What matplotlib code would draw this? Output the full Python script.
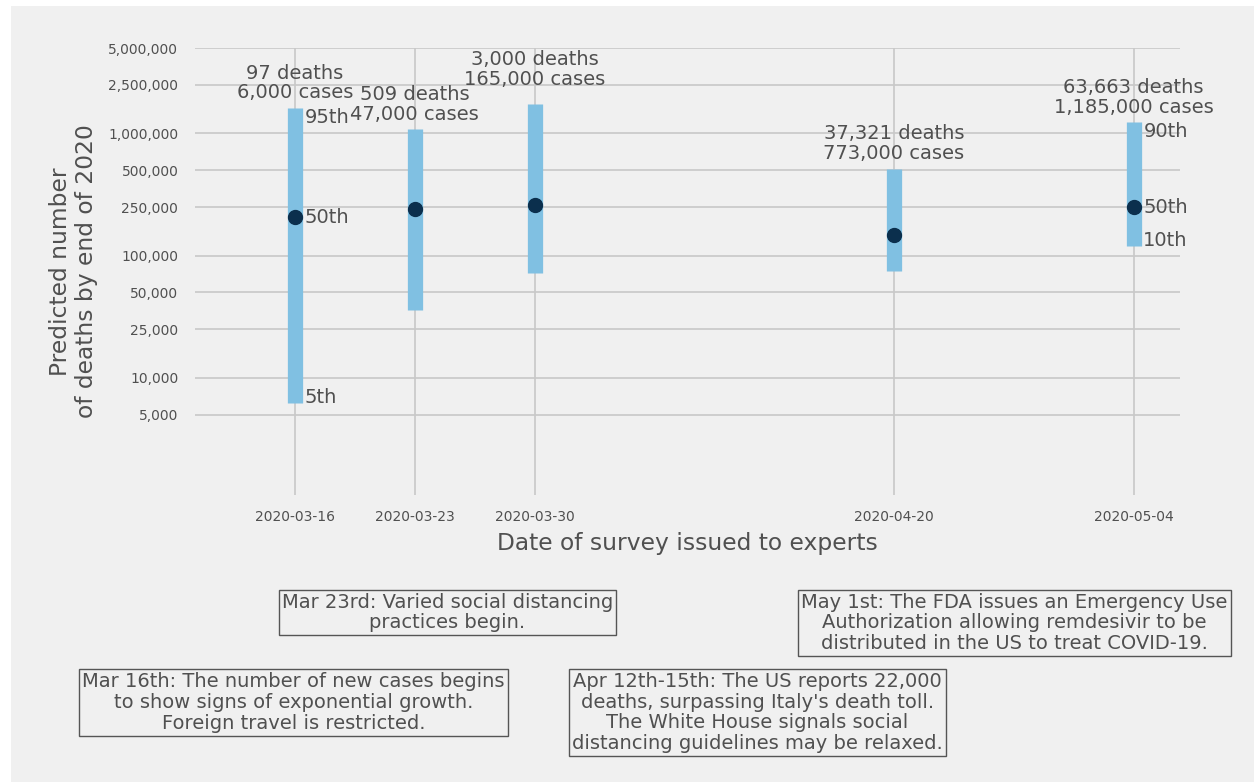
import numpy as np
import matplotlib
matplotlib.use("Agg")
import matplotlib.pyplot as plt
import matplotlib.dates as mdates
from matplotlib.ticker import FixedLocator, FuncFormatter, NullLocator
from matplotlib.patches import Rectangle

# Survey dates and expert forecasts (percentile ranges) for US deaths by end of 2020
survey_dates = ["2020-03-16", "2020-03-23", "2020-03-30", "2020-04-20", "2020-05-04"]
lower_pct = [6200, 35900, 71800, 75000, 120700]
median_pct = [206000, 242500, 258000, 148600, 250000]
upper_pct = [1620000, 1080000, 1730000, 516000, 1237000]

# Reported counts at the time each survey was issued
deaths_reported = ["97", "509", "3,000", "37,321", "63,663"]
cases_reported = ["6,000", "47,000", "165,000", "773,000", "1,185,000"]

# Percentile names shown on the first and last ranges
first_pct_labels = ["95th", "50th", "5th"]
last_pct_labels = ["90th", "50th", "10th"]

ytick_values = [5000, 10000, 25000, 50000, 100000, 250000, 500000,
                1000000, 2500000, 5000000]

events = [
    "Mar 23rd: Varied social distancing\npractices begin.",
    "May 1st: The FDA issues an Emergency Use\nAuthorization allowing remdesivir to be\ndistributed in the US to treat COVID-19.",
    "Mar 16th: The number of new cases begins\nto show signs of exponential growth.\nForeign travel is restricted.",
    "Apr 12th-15th: The US reports 22,000\ndeaths, surpassing Italy's death toll.\nThe White House signals social\ndistancing guidelines may be relaxed.",
]
# box centres in figure pixels (x from left, y from top)
event_pos = [(447.5, 612.5), (1014.5, 623), (293.5, 702.5), (757.5, 712.5)]

plt.style.use("fivethirtyeight")
TEXT = "#505050"
BG = "#f0f0f0"
W, H = 1254, 782

fig = plt.figure(figsize=(W / 100, H / 100), dpi=100, facecolor="white")
fig.add_artist(Rectangle((11 / W, 0), 1, 1 - 6 / H, transform=fig.transFigure,
                         facecolor=BG, edgecolor="none", zorder=-10))

ax = fig.add_axes([195 / W, 1 - 495 / H, (1180 - 195) / W, (495 - 48) / H])
ax.set_facecolor(BG)

x = np.array(survey_dates, dtype="datetime64[D]").astype("datetime64[s]").astype(object)
xnum = mdates.date2num(x)

ax.vlines(xnum, lower_pct, upper_pct, colors="#80c0e2", linewidth=11,
          capstyle="butt", zorder=3)
ax.plot(xnum, median_pct, "o", color="#0b2f4d", markersize=10, zorder=4)

ax.set_yscale("log")
ax.set_ylim(1100, 5000000)
ax.set_xlim(mdates.date2num(np.datetime64("2020-03-10T04:00").astype(object)),
            mdates.date2num(np.datetime64("2020-05-06T17:00").astype(object)))

ax.yaxis.set_major_locator(FixedLocator(ytick_values))
ax.yaxis.set_minor_locator(NullLocator())
ax.yaxis.set_major_formatter(FuncFormatter(lambda v, p: f"{v:,.0f}"))
ax.set_xticks(xnum)
ax.xaxis.set_major_formatter(mdates.DateFormatter("%Y-%m-%d"))
ax.tick_params(axis="both", labelsize=10, colors=TEXT, length=0)
ax.tick_params(axis="y", pad=12)
ax.tick_params(axis="x", pad=11)
ax.grid(True, color="#c8c8c8", linewidth=1.2)
for s in ax.spines.values():
    s.set_visible(False)

ax.set_xlabel("Date of survey issued to experts", fontsize=16.8, color=TEXT)
ax.xaxis.set_label_coords(0.5, -0.083)
ax.set_ylabel("Predicted number\nof deaths by end of 2020", fontsize=16.8, color=TEXT)
ax.yaxis.set_label_coords(-0.098, 0.5)

# reported counts above each range
label_offsets = [4, 4, 11, 4, 4]
for xi, top, d, c, off in zip(xnum, upper_pct, deaths_reported, cases_reported, label_offsets):
    ax.annotate(f"{d} deaths\n{c} cases", (xi, top), xytext=(0, off),
                textcoords="offset points", ha="center", va="bottom",
                fontsize=14, color=TEXT, linespacing=1.05)

# percentile names on first and last ranges
for idx, names in ((0, first_pct_labels), (-1, last_pct_labels)):
    vals = [upper_pct[idx], median_pct[idx], lower_pct[idx]]
    vas = ["top", "center", "baseline"]
    for name, v, va in zip(names, vals, vas):
        ax.annotate(name, (xnum[idx], v), xytext=(7, 0), textcoords="offset points",
                    ha="left", va=va, fontsize=14, color=TEXT)

for txt, (px, py) in zip(events, event_pos):
    fig.text(px / W, 1 - py / H, txt, ha="center", va="center", multialignment="center",
             fontsize=14, color=TEXT, linespacing=1.13,
             bbox=dict(boxstyle="square,pad=0.15", facecolor="none",
                       edgecolor="#555555", linewidth=1.0))

fig.savefig("out.png", dpi=100, facecolor=fig.get_facecolor())
